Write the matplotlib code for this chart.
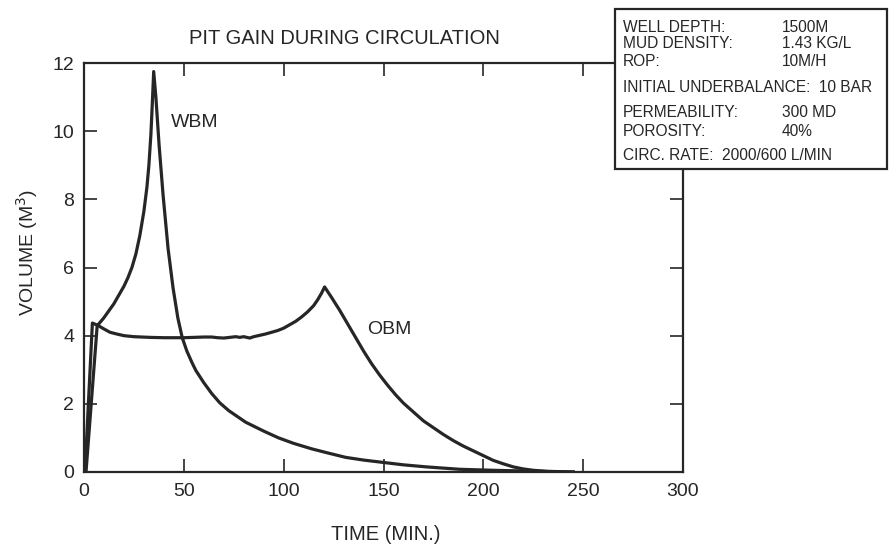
import matplotlib
matplotlib.use("Agg")
from matplotlib import pyplot as plt
from matplotlib.patches import Rectangle

# WBM (water based mud) pit gain
wbm_t = [1, 6.6, 9.9, 14.9, 20, 22, 24, 26, 28, 30, 31.5, 32.5, 33.5, 34.2, 34.9,
         36, 37.6, 39.6, 42.1, 44.6, 47, 49.2, 51.5, 54, 56, 60, 64, 68, 72.5, 77, 81, 90,
         97.5, 105, 114, 122, 131, 140, 150, 160, 171.5, 188, 205, 220, 235, 245]
wbm_v = [0, 4.29, 4.52, 4.93, 5.45, 5.7, 6.0, 6.4, 6.95, 7.65, 8.35, 9.0, 9.9, 10.8, 11.75,
         11.0, 9.6, 8.13, 6.56, 5.4, 4.52, 3.94, 3.55, 3.22, 2.98, 2.62, 2.3, 2.03, 1.8, 1.62,
         1.46, 1.2, 1.0, 0.84, 0.68, 0.56, 0.43, 0.35, 0.28, 0.21, 0.15, 0.08, 0.05, 0.03,
         0.01, 0.0]

# OBM (oil based mud) pit gain
obm_t = [0.5, 4.2, 7, 9.9, 13, 16.3, 20, 25, 33, 40, 50, 55, 60, 64, 67, 70, 73, 76,
         78, 80, 83, 85, 88, 91, 94, 97, 100, 103, 106, 109, 112, 115, 117, 119, 120.5,
         124, 128, 132, 136, 140, 144, 148, 152, 156, 160, 165, 170, 175, 180, 185, 190,
         195, 200, 205, 210, 215, 220, 225, 232, 245]
obm_v = [0, 4.37, 4.3, 4.2, 4.1, 4.05, 4.0, 3.97, 3.95, 3.94, 3.94, 3.95, 3.96, 3.96,
         3.94, 3.93, 3.95, 3.97, 3.95, 3.97, 3.93, 3.97, 4.01, 4.05, 4.1, 4.15, 4.22, 4.32,
         4.42, 4.55, 4.7, 4.88, 5.05, 5.25, 5.43,
         5.12, 4.75, 4.35, 3.95, 3.55, 3.18, 2.85, 2.55, 2.27, 2.02, 1.76, 1.5, 1.3, 1.1,
         0.92, 0.76, 0.62, 0.48, 0.34, 0.24, 0.15, 0.09, 0.05, 0.02, 0.0]

x_ticks = [0, 50, 100, 150, 200, 250, 300]
y_ticks = [0, 2, 4, 6, 8, 10, 12]

info_rows = [("WELL DEPTH:", "1500M"),
             ("MUD DENSITY:", "1.43 KG/L"),
             ("ROP:", "10M/H"),
             ("INITIAL UNDERBALANCE:  10 BAR", ""),
             ("PERMEABILITY:", "300 MD"),
             ("POROSITY:", "40%"),
             ("CIRC. RATE:  2000/600 L/MIN", "")]

W, H = 889, 546
ink = '#262626'
plt.rcParams['font.family'] = ['Liberation Sans', 'DejaVu Sans']

def fx(px):
    return px / W

def fy(py):
    return 1 - py / H

fig = plt.figure(figsize=(W / 100, H / 100), dpi=100)
ax = fig.add_axes([fx(84), fy(472), fx(683) - fx(84), fy(63) - fy(472)])

ax.plot(wbm_t, wbm_v, color=ink, lw=2.3, solid_joinstyle='round')
ax.plot(obm_t, obm_v, color=ink, lw=2.3, solid_joinstyle='round')

ax.set_xlim(0, 300)
ax.set_ylim(0, 12)
ax.set_xticks(x_ticks)
ax.set_yticks(y_ticks)
ax.tick_params(direction='in', length=9.5, width=1.2, colors=ink,
               top=True, right=True, labelsize=14)
ax.tick_params(axis='x', pad=8)
ax.tick_params(axis='y', pad=7)
for s in ax.spines.values():
    s.set_linewidth(1.6)
    s.set_color(ink)

ax.text(43.6, 10.26, "WBM", fontsize=14, color=ink, va='center', ha='left')
ax.text(141.6, 4.18, "OBM", fontsize=14, color=ink, va='center', ha='left')

fig.text(fx(344), fy(39), "PIT GAIN DURING CIRCULATION", fontsize=14.5,
         color=ink, ha='center', va='center')
fig.text(fx(386), fy(535), "TIME (MIN.)", fontsize=14.5, color=ink,
         ha='center', va='center')
fig.text(fx(27), fy(252), "VOLUME (M$^3$)", fontsize=14, color=ink,
         ha='center', va='center', rotation=90)

# parameter box on the upper right, drawn over the axes frame
box = Rectangle((fx(615), fy(169)), fx(887) - fx(615), fy(9) - fy(169),
                transform=fig.transFigure, facecolor='white', edgecolor=ink,
                lw=1.6, zorder=5)
fig.patches.append(box)

row_y = [28, 44, 62, 87, 113, 132, 155]
for (label, value), py in zip(info_rows, row_y):
    fig.text(fx(623), fy(py), label, fontsize=11.2, color=ink,
             ha='left', va='center', zorder=6)
    if value:
        fig.text(fx(782), fy(py), value, fontsize=11.2, color=ink,
                 ha='left', va='center', zorder=6)

fig.savefig("out.png", dpi=100)
